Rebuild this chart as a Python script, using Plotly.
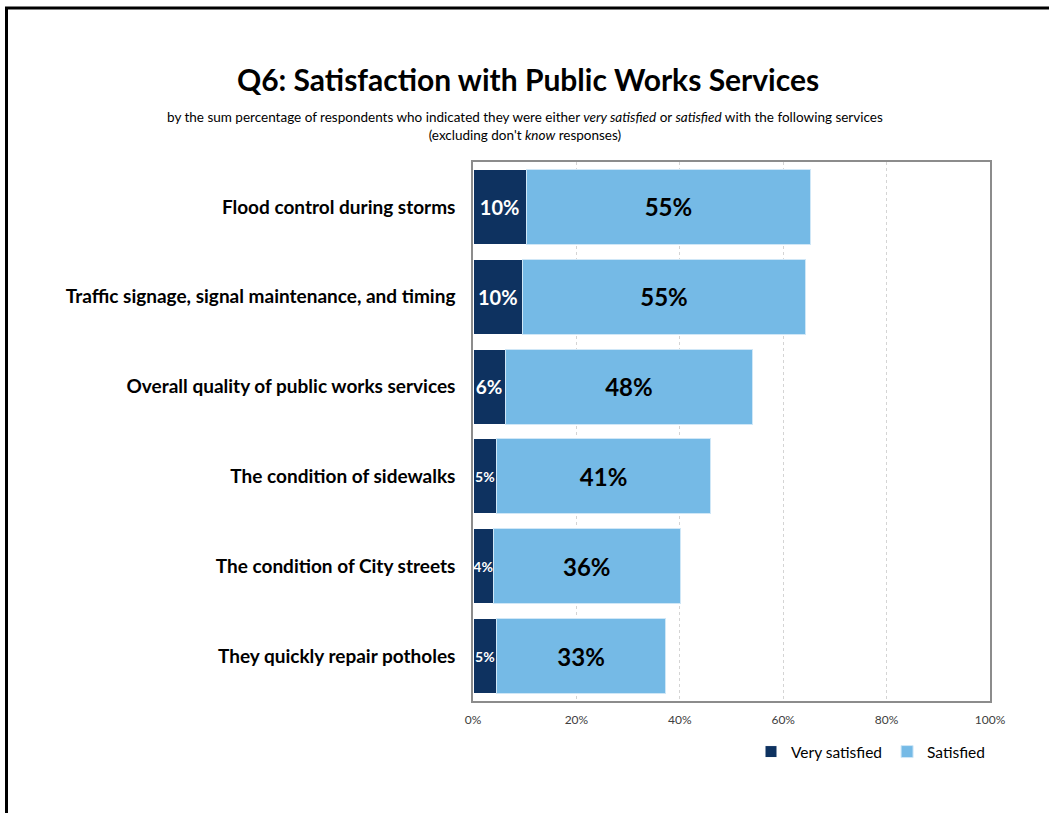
import plotly.graph_objects as go

# Survey services, listed top to bottom
services = [
    "Flood control during storms",
    "Traffic signage, signal maintenance, and timing",
    "Overall quality of public works services",
    "The condition of sidewalks",
    "The condition of City streets",
    "They quickly repair potholes",
]
very_satisfied = [10.3, 9.6, 6.2, 4.6, 3.9, 4.6]
satisfied = [55.0, 54.7, 47.9, 41.3, 36.2, 32.6]

tick_values = [0, 20, 40, 60, 80, 100]
tick_labels = ["0%", "20%", "40%", "60%", "80%", "100%"]

DARK = "#0e3260"
LIGHT = "#75bae6"
FONT = "Lato"

W, H = 1049, 813
ML, MR, MT, MB = 473, 59, 162, 112
PW, PH = W - ML - MR, H - MT - MB


def px_x(px):
    return (px - ML) / PW


def px_y(py):
    return (H - MB - py) / PH


fig = go.Figure()
fig.add_trace(go.Bar(
    name="Very satisfied", y=services, x=very_satisfied, orientation="h",
    marker=dict(color=DARK, line=dict(color="white", width=1)),
    texttemplate="%{x:.0f}%", textposition="inside", insidetextanchor="middle",
    textangle=0, constraintext="none",
    insidetextfont=dict(family=FONT, color="white", size=[20, 20, 19, 14, 14, 14], weight="bold"),
    hoverinfo="skip",
))
fig.add_trace(go.Bar(
    name="Satisfied", y=services, x=satisfied, orientation="h",
    marker=dict(color=LIGHT, line=dict(color="#cfe7f7", width=1)),
    texttemplate="%{x:.0f}%", textposition="inside", insidetextanchor="middle",
    textangle=0,
    insidetextfont=dict(family=FONT, color="black", size=24, weight="bold"),
    hoverinfo="skip",
))

fig.update_layout(
    width=W, height=H,
    margin=dict(l=ML, r=MR, t=MT, b=MB, autoexpand=False),
    barmode="stack", bargap=0.165,
    paper_bgcolor="white", plot_bgcolor="white",
    font=dict(family=FONT, color="black"),
    title=dict(
        text="<b>Q6: Satisfaction with Public Works Services</b>",
        x=528 / W, xanchor="center", y=1 - 80 / H, yanchor="middle",
        font=dict(family=FONT, size=30, color="black"),
    ),
    legend=dict(
        orientation="h", x=1.0, xanchor="right", y=px_y(752), yanchor="middle",
        font=dict(family=FONT, size=15.5, color="black"),
        itemwidth=30, traceorder="normal",
    ),
    xaxis=dict(
        range=[0, 100], tickvals=tick_values, ticktext=tick_labels,
        showgrid=True, gridcolor="#d4d4d4", griddash="dot", gridwidth=1,
        showline=True, linecolor="#8c8c8c", linewidth=1.5, mirror=True,
        ticks="", ticklabelstandoff=7,
        tickfont=dict(family=FONT, size=12, color="#404040"),
        zeroline=False, fixedrange=True,
    ),
    yaxis=dict(
        autorange="reversed", showline=True, linecolor="#8c8c8c", linewidth=1.5,
        mirror=True, ticks="", ticklabelstandoff=12,
        tickfont=dict(family=FONT, size=19, color="black", weight="bold"),
        fixedrange=True,
    ),
)

fig.add_annotation(
    text="by the sum percentage of respondents who indicated they were either <i>very satisfied</i> or "
         "<i>satisfied</i> with the following services<br>(excluding don't <i>know</i> responses)",
    xref="paper", yref="paper", x=px_x(525), y=px_y(126), xanchor="center", yanchor="middle",
    showarrow=False, align="center", font=dict(family=FONT, size=13.5, color="black"),
)

# Frame edges along the top and left of the page
fig.add_shape(type="line", xref="paper", yref="paper",
              x0=px_x(5), x1=px_x(W + 5), y0=px_y(8), y1=px_y(8),
              line=dict(color="black", width=3))
fig.add_shape(type="line", xref="paper", yref="paper",
              x0=px_x(6.5), x1=px_x(6.5), y0=px_y(7), y1=px_y(H + 5),
              line=dict(color="black", width=3))

fig.write_html("out.html")
